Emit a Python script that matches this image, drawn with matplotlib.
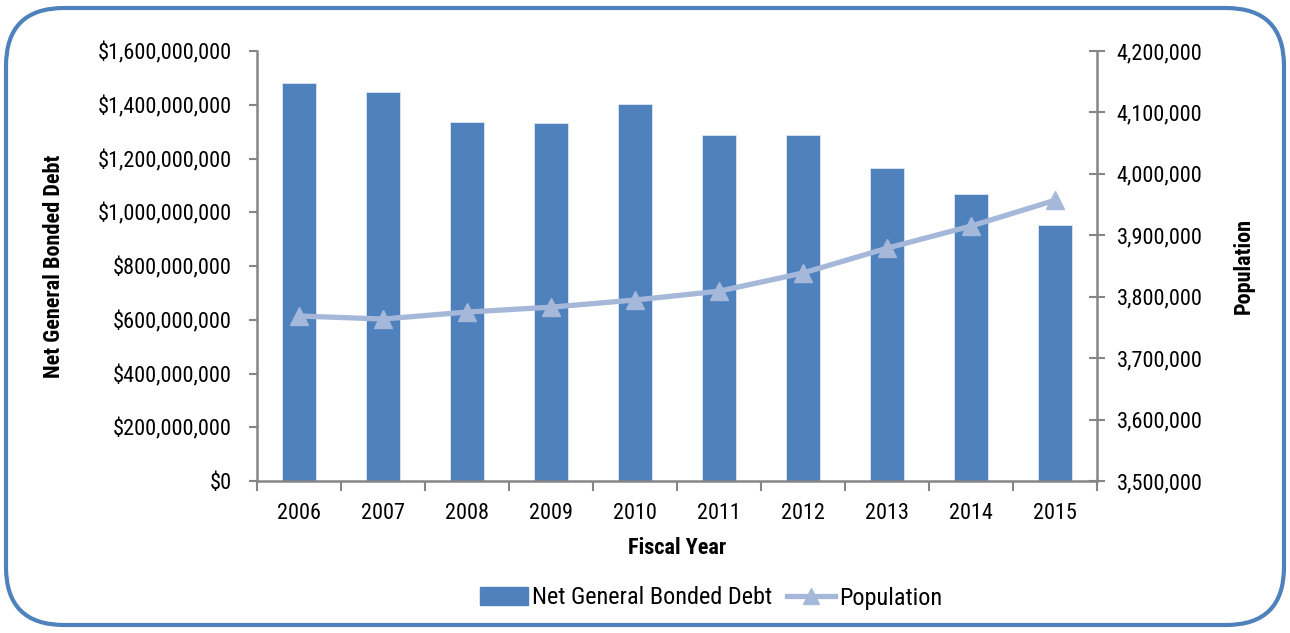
import matplotlib.pyplot as plt
from matplotlib.patches import FancyBboxPatch, Patch
from matplotlib.lines import Line2D
from matplotlib.ticker import FuncFormatter

plt.rcParams['font.family'] = ['Roboto Condensed', 'Liberation Sans', 'DejaVu Sans']

years = ['2006', '2007', '2008', '2009', '2010', '2011', '2012', '2013', '2014', '2015']
debt = [1481e6, 1447e6, 1336e6, 1332e6, 1403e6, 1289e6, 1289e6, 1166e6, 1068e6, 953e6]
population = [3768600, 3763700, 3775000, 3783000, 3794600, 3809000, 3838600, 3879000, 3915000, 3957000]

bar_color = '#4F81BD'
line_color = '#A5B8DA'
axis_color = '#868686'
fs = 16

fig = plt.figure(figsize=(12.9, 6.33), dpi=100)
ax = fig.add_axes([257 / 1290, 1 - 481 / 633, (1097 - 257) / 1290, (481 - 51) / 633])

x = list(range(len(years)))
ax.bar(x, debt, width=0.41, color=bar_color, edgecolor='#DCE6F2', linewidth=0.6, zorder=2)
ax.set_xlim(-0.5, len(years) - 0.5)
ax.set_ylim(0, 1.6e9)
ax.set_yticks([i * 2e8 for i in range(9)])
ax.yaxis.set_major_formatter(FuncFormatter(lambda v, p: '${:,.0f}'.format(v)))
ax.set_xticks(x)
ax.set_xticklabels(years)
ax.set_xticks([i - 0.5 for i in range(len(years) + 1)], minor=True)
ax.tick_params(axis='x', which='major', length=0, labelsize=fs, pad=16)
ax.tick_params(axis='x', which='minor', length=7, width=1.5, color=axis_color, direction='out')
ax.tick_params(axis='y', length=6, width=1.5, color=axis_color, labelsize=fs, pad=12)
ax.set_xlabel('Fiscal Year', fontsize=fs, fontweight='bold', labelpad=9)
ax.set_ylabel('Net General Bonded Debt', fontsize=fs, fontweight='bold', labelpad=24)

ax2 = ax.twinx()
ax2.plot(x, population, color=line_color, linewidth=3.8, marker='^', markersize=13,
         markerfacecolor=line_color, markeredgecolor=line_color, zorder=3)
ax2.set_ylim(3.5e6, 4.2e6)
ax2.set_yticks([3.5e6 + i * 1e5 for i in range(8)])
ax2.yaxis.set_major_formatter(FuncFormatter(lambda v, p: '{:,.0f}'.format(v)))
ax2.tick_params(axis='y', length=12, width=1.5, color=axis_color, direction='inout',
                labelsize=fs, pad=8)
ax2.set_ylabel('Population', fontsize=fs, fontweight='bold', labelpad=22)

for a in (ax, ax2):
    a.spines['top'].set_visible(False)
    for s in ('left', 'right', 'bottom'):
        a.spines[s].set_color(axis_color)
        a.spines[s].set_linewidth(1.8)
ax.spines['right'].set_visible(False)
ax2.spines['left'].set_visible(False)
ax2.spines['bottom'].set_visible(False)

handles = [Patch(facecolor=bar_color, edgecolor=bar_color),
           Line2D([0], [0], color=line_color, linewidth=3.8, marker='^', markersize=12)]
fig.legend(handles, ['Net General Bonded Debt', 'Population'], loc='center',
           bbox_to_anchor=(0.551, 1 - 598 / 633), ncol=2, frameon=False, fontsize=17.5,
           handlelength=2.0, handletextpad=0.15, columnspacing=0.6)

box = FancyBboxPatch((6 / 1290, 8 / 633), 1278 / 1290, 617 / 633,
                     boxstyle='round,pad=0,rounding_size=0.045',
                     transform=fig.transFigure, facecolor='none',
                     edgecolor='#4F81BD', linewidth=3, mutation_aspect=1290 / 633)
fig.patches.append(box)

fig.savefig('out.png', dpi=100)
